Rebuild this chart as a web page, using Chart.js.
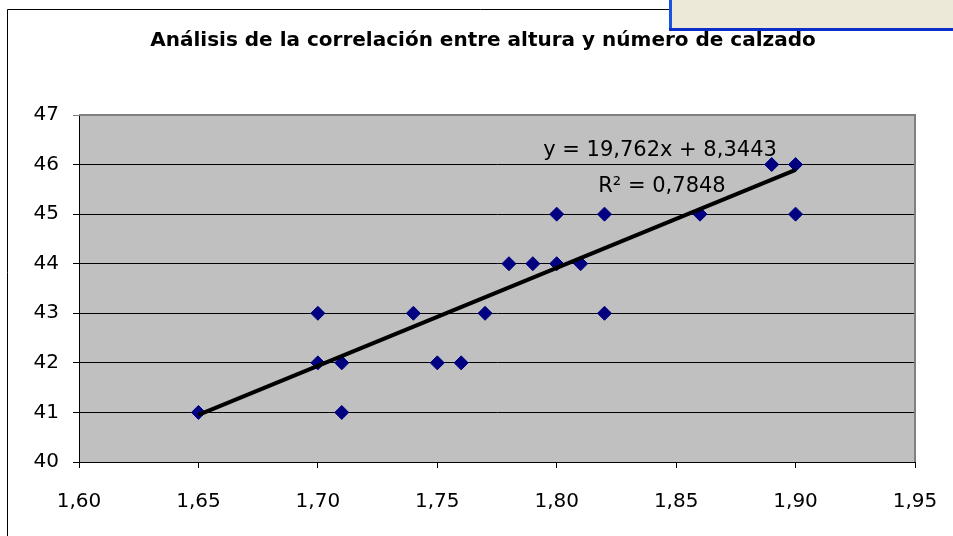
<!DOCTYPE html>
<html>
<head>
<meta charset="utf-8">
<script src="https://cdn.jsdelivr.net/npm/chart.js@4.4.0/dist/chart.umd.min.js"></script>
<style>
    html, body { margin: 0; padding: 0; background: #fff; }
    #wrap { width: 953px; height: 536px; }
</style>
</head>
<body>
<div id="wrap"><canvas id="grafico" width="953" height="536"></canvas></div>
<script>
// datos: altura (m) y número de calzado
var alturas  = [1.65, 1.70, 1.70, 1.71, 1.71, 1.74, 1.75, 1.76, 1.77, 1.78,
                1.79, 1.80, 1.80, 1.81, 1.82, 1.82, 1.86, 1.89, 1.90, 1.90];
var calzados = [41, 43, 42, 42, 41, 43, 42, 42, 43, 44,
                44, 45, 44, 44, 45, 43, 45, 46, 46, 45];

var xTicks = [1.60, 1.65, 1.70, 1.75, 1.80, 1.85, 1.90, 1.95];
var yTicks = [40, 41, 42, 43, 44, 45, 46, 47];

// línea de tendencia (Excel)
var pendiente = 19.762;
var ordenada = 8.3443;
var r2 = 0.7848;
var tendenciaDesde = 1.65;
var tendenciaHasta = 1.90;

var titulo = 'Análisis de la correlación entre altura y número de calzado';

function coma(v, dec) {
    return v.toFixed(dec).replace('.', ',');
}

document.addEventListener("DOMContentLoaded", function () {
    var puntos = alturas.map(function (a, i) { return { x: a, y: calzados[i] }; });
    var tendencia = [tendenciaDesde, tendenciaHasta].map(function (x) {
        return { x: x, y: pendiente * x + ordenada };
    });

    var fuente = 'DejaVu Sans';

    var decorado = {
        id: 'decorado',
        beforeDraw: function (chart) {
            var ctx = chart.ctx, a = chart.chartArea;
            ctx.save();
            ctx.fillStyle = '#ffffff';
            ctx.fillRect(0, 0, chart.width, chart.height);
            ctx.fillStyle = '#c0c0c0';
            ctx.fillRect(a.left, a.top, a.right - a.left, a.bottom - a.top);
            ctx.restore();
        },
        beforeDatasetsDraw: function (chart) {
            // marco gris arriba y a la derecha del área de trazado
            var ctx = chart.ctx, a = chart.chartArea;
            ctx.save();
            ctx.strokeStyle = '#808080';
            ctx.lineWidth = 2;
            ctx.beginPath();
            ctx.moveTo(a.left, a.top);
            ctx.lineTo(a.right, a.top);
            ctx.lineTo(a.right, a.bottom);
            ctx.stroke();
            ctx.restore();
        },
        afterDraw: function (chart) {
            var ctx = chart.ctx;
            ctx.save();
            // borde exterior del gráfico
            ctx.strokeStyle = '#000';
            ctx.lineWidth = 1;
            ctx.beginPath();
            ctx.moveTo(7.5, chart.height);
            ctx.lineTo(7.5, 9.5);
            ctx.lineTo(chart.width, 9.5);
            ctx.stroke();

            // recuadro beige de arriba a la derecha
            ctx.fillStyle = '#ece9d8';
            ctx.fillRect(669, 0, chart.width - 669, 31);
            ctx.fillStyle = '#1c52e0';
            ctx.fillRect(669, 0, 3, 31);
            ctx.fillStyle = '#0a2fc8';
            ctx.fillRect(669, 28, chart.width - 669, 3);

            ctx.fillStyle = '#000';
            ctx.textAlign = 'center';
            ctx.textBaseline = 'middle';

            // título
            ctx.font = 'bold 20px "' + fuente + '"';
            ctx.fillText(titulo, 483, 41);

            // ecuación y R²
            ctx.font = '21px "' + fuente + '"';
            ctx.fillText('y = ' + coma(pendiente, 3) + 'x + ' + coma(ordenada, 4), 660, 151);
            ctx.fillText('R² = ' + coma(r2, 4), 662, 187);
            ctx.restore();
        }
    };

    var ctx1 = document.getElementById('grafico').getContext('2d');
    var chart1 = new Chart(ctx1, {
        type: 'scatter',
        data: {
            datasets: [{
                label: 'Tendencia',
                data: tendencia,
                showLine: true,
                borderColor: '#000',
                borderWidth: 4,
                pointRadius: 0,
                fill: false
            }, {
                label: 'Calzado',
                data: puntos,
                pointStyle: 'rectRot',
                pointRadius: 7,
                borderWidth: 1,
                backgroundColor: '#000080',
                borderColor: '#000080'
            }]
        },
        options: {
            responsive: false,
            animation: false,
            layout: { padding: { left: 14, right: 38, top: 115, bottom: 0 } },
            scales: {
                x: {
                    type: 'linear',
                    min: 1.60,
                    max: 1.95,
                    afterBuildTicks: function (s) {
                        s.ticks = xTicks.map(function (v) { return { value: v }; });
                    },
                    afterFit: function (s) {
                        s.height = 74;
                        s.paddingLeft = 0;
                        s.paddingRight = 0;
                    },
                    ticks: {
                        color: '#000',
                        padding: 22,
                        maxRotation: 0,
                        font: { family: fuente, size: 20 },
                        callback: function (v) { return coma(v, 2); }
                    },
                    grid: {
                        drawOnChartArea: false,
                        tickLength: 6,
                        color: '#000'
                    },
                    border: { color: '#000', width: 1 }
                },
                y: {
                    min: 40,
                    max: 47,
                    afterBuildTicks: function (s) {
                        s.ticks = yTicks.map(function (v) { return { value: v }; });
                    },
                    afterFit: function (s) { s.width = 65; },
                    ticks: {
                        color: '#000',
                        padding: 14,
                        font: { family: fuente, size: 20 }
                    },
                    grid: {
                        tickLength: 6,
                        color: function (c) { return c.tick && c.tick.value === 47 ? '#808080' : '#000'; }
                    },
                    border: { color: '#000', width: 1 }
                }
            },
            plugins: {
                legend: { display: false },
                tooltip: { enabled: false },
                title: { display: false }
            }
        },
        plugins: [decorado]
    });
});
</script>
</body>
</html>
